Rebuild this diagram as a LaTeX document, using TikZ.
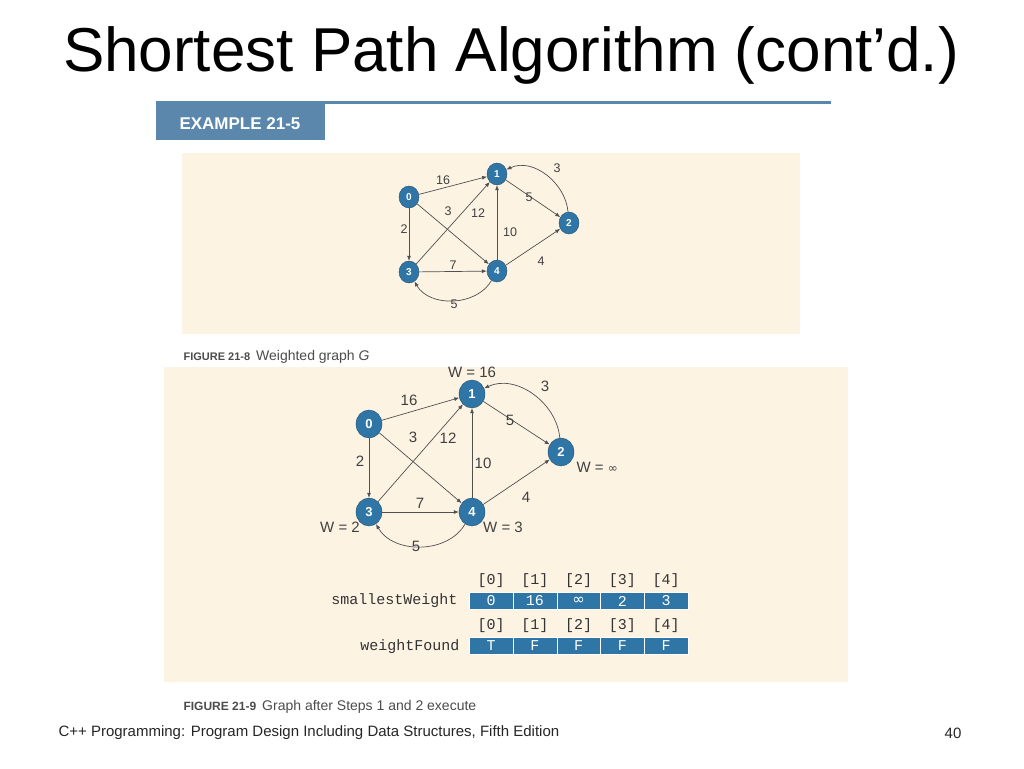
\documentclass[tikz,border=0pt]{standalone}
\usepackage{fontspec}
\setmainfont{Liberation Sans}
\newfontfamily\monof{Liberation Mono}
\newfontfamily\dvs{DejaVu Sans}
\usetikzlibrary{arrows.meta,shapes.geometric}
\definecolor{nodeblue}{HTML}{2F75A5}
\definecolor{beige}{HTML}{FDF3E3}
\definecolor{hdrblue}{HTML}{5B87AD}
\definecolor{edgec}{HTML}{505050}
\tikzset{
  vtx/.style={ellipse,draw=nodeblue!70!black,fill=nodeblue,text=white,inner sep=0pt,font=\bfseries},
  vs/.style={vtx,minimum width=20pt,minimum height=22pt,font=\bfseries\fontsize{10}{10}\selectfont},
  vb/.style={vtx,minimum width=26pt,minimum height=28pt,font=\bfseries\fontsize{13}{13}\selectfont},
  edg/.style={draw=edgec,line width=0.7pt,-{Latex[length=5pt,width=4pt]}},
  lbs/.style={font=\fontsize{12.5}{12.5}\selectfont,text=black!75},
  lbb/.style={font=\fontsize{15}{15}\selectfont,text=black!75},
  cell/.style={draw=white,fill=nodeblue,text=white,minimum width=43.8pt,minimum height=17pt,inner sep=0pt,font=\monof\fontsize{15}{15}\selectfont},
  hdr/.style={font=\monof\fontsize{15}{15}\selectfont,text=black!80},
  figcap/.style={anchor=west,font=\fontsize{14}{14}\selectfont,text=black!70}
}
\begin{document}
\begin{tikzpicture}[x=1pt,y=-1pt]
\useasboundingbox (0,0) rectangle (1024,768);
\fill[white] (0,0) rectangle (1024,768);
\node (title) at (511,55) {\fontsize{62}{62}\selectfont Shortest Path Algorithm (cont'd.)};
\fill[hdrblue] (156,101) rectangle (831,104);
\fill[hdrblue] (156,101) rectangle (325,140);
\node[text=white,font=\bfseries\fontsize{17}{17}\selectfont] (ex) at (240,124) {EXAMPLE 21-5};
% top graph
\fill[beige] (182,153) rectangle (800,334);
\node[vs] (a0) at (409,197) {0};
\node[vs] (a1) at (497,174) {1};
\node[vs] (a2) at (569,223) {2};
\node[vs] (a3) at (409,272) {3};
\node[vs] (a4) at (497,271) {4};
\draw[edg] (a0) -- (a1);
\draw[edg] (a0) -- (a3);
\draw[edg] (a0) -- (a4);
\draw[edg] (a3) -- (a1);
\draw[edg] (a3) -- (a4);
\draw[edg] (a4) -- (a1);
\draw[edg] (a1) -- (a2);
\draw[edg] (a4) -- (a2);
\draw[edg] (a2) to[out=95,in=25] (a1);
\draw[edg] (a4) to[out=-120,in=-60] (a3);
\node[lbs] at (443,180) {16};
\node[lbs] at (404,229) {2};
\node[lbs] at (448,211) {3};
\node[lbs] at (478,213) {12};
\node[lbs] at (510,232) {10};
\node[lbs] at (529,197) {5};
\node[lbs] at (557,168) {3};
\node[lbs] at (453,265) {7};
\node[lbs] at (541,261) {4};
\node[lbs] at (454,304) {5};
% bottom graph
\fill[beige] (164,367) rectangle (848,682);
\fill[white] (180,345) rectangle (800,367);
\node[figcap] (c1) at (180,357) {\textbf{\fontsize{11}{11}\selectfont FIGURE 21-8}\hspace{6pt}Weighted graph \textit{G}};
\node[vb] (b0) at (369,424) {0};
\node[vb] (b1) at (472,394) {1};
\node[vb] (b2) at (561,452) {2};
\node[vb] (b3) at (369,512) {3};
\node[vb] (b4) at (472,512) {4};
\draw[edg] (b0) -- (b1);
\draw[edg] (b0) -- (b3);
\draw[edg] (b0) -- (b4);
\draw[edg] (b3) -- (b1);
\draw[edg] (b3) -- (b4);
\draw[edg] (b4) -- (b1);
\draw[edg] (b1) -- (b2);
\draw[edg] (b4) -- (b2);
\draw[edg] (b2) to[out=95,in=25] (b1);
\draw[edg] (b4) to[out=-120,in=-60] (b3);
\node[lbb] at (409,400) {16};
\node[lbb] at (360,461) {2};
\node[lbb] at (413,437) {3};
\node[lbb] at (448,438) {12};
\node[lbb] at (483,463) {10};
\node[lbb] at (510,420) {5};
\node[lbb] at (545,386) {3};
\node[lbb] at (420,503) {7};
\node[lbb] at (526,497) {4};
\node[lbb] at (416,546) {5};
\node[lbb] at (472,372) {W = 16};
\node[lbb,anchor=west] at (573,467) {W = {\dvs\fontsize{12}{12}\selectfont ∞}};
\node[lbb] at (340,527) {W = 2};
\node[lbb] at (503,527) {W = 3};
% table
\foreach \i/\v in {0/0,1/16,2/{\dvs ∞},3/2,4/3}{
  \node[cell] (s\i) at (491+43.8*\i,601) {\v};
  \node[hdr] (sh\i) at (491+43.8*\i,581) {[\i]};
}
\foreach \i/\v in {0/T,1/F,2/F,3/F,4/F}{
  \node[cell] (w\i) at (491+43.8*\i,646) {\v};
  \node[hdr] (wh\i) at (491+43.8*\i,626) {[\i]};
}
\node[hdr,anchor=east] (sw) at (461,601) {smallestWeight};
\node[hdr,anchor=east] (wf) at (463,647) {weightFound};
\node[figcap] (c2) at (180,707) {\textbf{\fontsize{12}{12}\selectfont FIGURE 21-9}\hspace{6pt}Graph after Steps 1 and 2 execute};
\node[anchor=west,font=\fontsize{15}{15}\selectfont,text=black!85] (ft) at (55,733) {C++ Programming: Program Design Including Data Structures, Fifth Edition};
\node[font=\fontsize{15}{15}\selectfont,text=black!85] (pg) at (953,733) {40};
\end{tikzpicture}
\end{document}
